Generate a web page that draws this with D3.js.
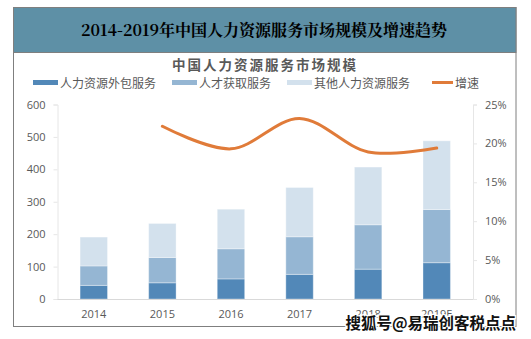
<!DOCTYPE html>
<html><head><meta charset="utf-8">
<script src="https://cdn.jsdelivr.net/npm/d3@7"></script>
<style>
body{margin:0;background:#fff;}
svg{display:block;}
</style></head>
<body>
<svg id="c" width="531" height="339"></svg>
<script>
const years = ["2014","2015","2016","2017","2018","2019E"];
const outsourcing = [42, 50, 62, 76, 92, 112];
const recruiting = [60, 78, 93, 116, 137, 164];
const otherServices = [89, 105, 122, 152, 178, 212];
const growthYears = ["2015","2016","2017","2018","2019E"];
const growth = [0.222, 0.193, 0.232, 0.189, 0.194];
const leftTicks = [0,100,200,300,400,500,600];
const rightTicks = [0,0.05,0.10,0.15,0.20,0.25];
const seriesNames = ["人力资源外包服务","人才获取服务","其他人力资源服务","增速"];
const colors = ["#5288b8","#95b6d3","#d3e1ed","#e07b39"];

const svg = d3.select("#c");
const font = "'Noto Sans CJK SC','Noto Sans',sans-serif";

// frame
svg.append("rect").attr("x",13.5).attr("y",7.5).attr("width",502.5).attr("height",319)
  .attr("fill","#fff").attr("stroke","#7f7f7f").attr("stroke-width",1);
svg.append("rect").attr("x",13.5).attr("y",7.5).attr("width",502.5).attr("height",45)
  .attr("fill","#5e90a6").attr("stroke","#7f7f7f").attr("stroke-width",1);
svg.append("text").attr("x",264).attr("y",36).attr("text-anchor","middle")
  .attr("font-family","'Noto Serif CJK SC','Noto Sans CJK SC',serif").attr("font-size",16).attr("font-weight","bold")
  .attr("fill","#000").text("2014-2019年中国人力资源服务市场规模及增速趋势");

// chart title
svg.append("text").attr("x",265).attr("y",70).attr("text-anchor","middle")
  .attr("font-family",font).attr("font-size",13.5).attr("font-weight","bold").attr("fill","#595959")
  .attr("letter-spacing",2).text("中国人力资源服务市场规模");

// legend
const legendX = [33,172,287,432];
const legendW = [25,25,25,21];
seriesNames.forEach((n,i)=>{
  const g = svg.append("g");
  if(i<3){
    g.append("rect").attr("x",legendX[i]).attr("y",80).attr("width",legendW[i]).attr("height",5).attr("fill",colors[i]);
  } else {
    g.append("line").attr("x1",legendX[i]).attr("x2",legendX[i]+legendW[i]).attr("y1",82.5).attr("y2",82.5)
      .attr("stroke",colors[i]).attr("stroke-width",3);
  }
  g.append("text").attr("x",legendX[i]+legendW[i]+2).attr("y",87.5).attr("font-family",font)
    .attr("font-size",12).attr("fill","#595959").text(n);
});

const x0 = 59.5, x1 = 471, yTop = 104.5, yBot = 299;
const x = d3.scaleBand().domain(years).range([x0,x1]).paddingInner(0.6).paddingOuter(0.3);
const y = d3.scaleLinear().domain([0,600]).range([yBot,yTop]);
const y2 = d3.scaleLinear().domain([0,0.25]).range([yBot,yTop]);

// left axis
const la = svg.append("g").attr("transform",`translate(${x0-2},0)`)
  .call(d3.axisLeft(y).tickValues(leftTicks).tickSize(4).tickPadding(8));
la.select(".domain").attr("stroke","#e6e6e6");
la.selectAll(".tick line").attr("stroke","#e6e6e6");
la.selectAll("text").attr("font-family","'Open Sans',sans-serif").attr("font-size",11).attr("fill","#595959");

// right axis
const ra = svg.append("g").attr("transform",`translate(${x1+2},0)`)
  .call(d3.axisRight(y2).tickValues(rightTicks).tickFormat(d3.format(".0%")).tickSize(4).tickPadding(8));
ra.select(".domain").attr("stroke","#e6e6e6");
ra.selectAll(".tick line").attr("stroke","#e6e6e6");
ra.selectAll("text").attr("font-family","'Open Sans',sans-serif").attr("font-size",11).attr("fill","#595959");

// bars
const data = years.map((yr,i)=>({year:yr, a:outsourcing[i], b:recruiting[i], c:otherServices[i]}));
const stack = d3.stack().keys(["a","b","c"])(data);
stack.forEach((layer,li)=>{
  svg.append("g").selectAll("rect").data(layer).join("rect")
    .attr("x",d=>x(d.data.year)).attr("width",x.bandwidth())
    .attr("y",d=>y(d[1])).attr("height",d=>y(d[0])-y(d[1]))
    .attr("fill",colors[li]).attr("stroke","#ffffff").attr("stroke-opacity",0.35).attr("stroke-width",1);
});

// bottom axis
const ba = svg.append("g").attr("transform",`translate(0,${yBot})`)
  .call(d3.axisBottom(x).tickSize(0).tickPadding(11));
ba.select(".domain").attr("stroke","#d9d9d9").attr("d",`M${x0-2},0.5H${x1+2}`);
ba.selectAll("text").attr("font-family","'Open Sans',sans-serif").attr("font-size",11).attr("fill","#595959");

// growth line
const line = d3.line().x((d,i)=>x(growthYears[i])+x.bandwidth()/2).y(d=>y2(d)).curve(d3.curveCatmullRom.alpha(0.5));
svg.append("path").datum(growth).attr("d",line).attr("fill","none")
  .attr("stroke",colors[3]).attr("stroke-width",3).attr("stroke-linecap","round");

// watermark
svg.append("text").attr("x",516).attr("y",329).attr("text-anchor","end")
  .attr("font-family",font).attr("font-size",15.5).attr("font-weight","bold")
  .attr("fill","#111").attr("stroke","#fff").attr("stroke-width",2.5).attr("paint-order","stroke")
  .text("搜狐号@易瑞创客税点点");
</script>
</body></html>
